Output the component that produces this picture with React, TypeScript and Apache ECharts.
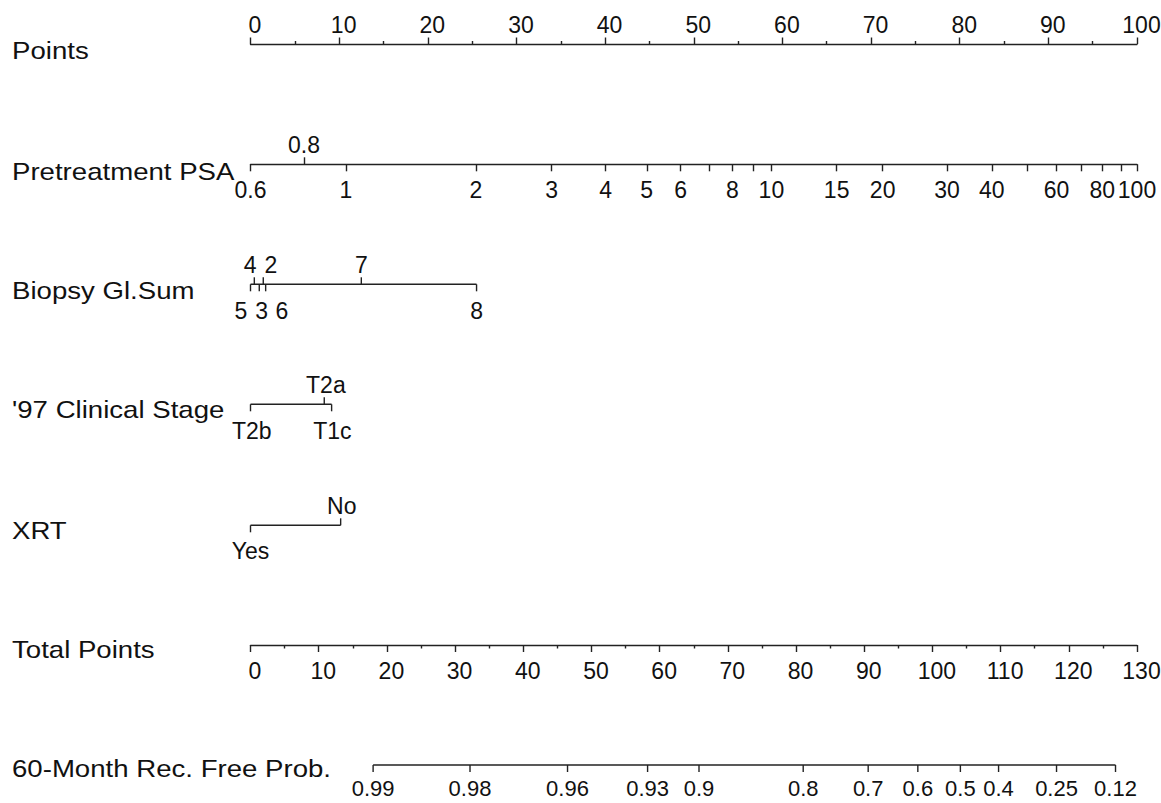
import React, { useEffect, useRef } from "react";
import * as echarts from "echarts";

// ---------- data ----------
const rowLabels = [
  "Points",
  "Pretreatment PSA",
  "Biopsy Gl.Sum",
  "'97 Clinical Stage",
  "XRT",
  "Total Points",
  "60-Month Rec. Free Prob.",
];

// Points scale (0-100) and Total Points scale (0-130)
const pointsRange = [0, 100];
const pointsStep = 10;
const totalRange = [0, 130];
const totalStep = 10;

// Pretreatment PSA: tick values and their position on the Points scale
const psaValues = ["0.6", "0.8", "1", "2", "3", "4", "5", "6", "7", "8", "9", "10", "15", "20", "30", "40", "50", "60", "70", "80", "90", "100"];
const psaPoints = [0, 6.03, 10.77, 25.42, 33.96, 40.05, 44.7, 48.53, 51.73, 54.36, 56.69, 58.76, 66.12, 71.31, 78.56, 83.63, 87.65, 90.92, 93.74, 96.08, 98.22, 100];
const psaAboveLabels = ["0.8"];
const psaUnlabeled = ["7", "9", "50", "70", "90"];

// Biopsy Gleason sum
const biopsyValues = ["5", "4", "3", "2", "6", "7", "8"];
const biopsyPoints = [0, 0.43, 0.99, 1.44, 1.71, 12.5, 25.5];
const biopsySides = ["below", "above", "below", "above", "below", "above", "below"];
const biopsyLabelAt = [-1.07, -0.03, 1.26, 2.31, 3.55, 12.5, 25.5];

// '97 Clinical Stage
const stageValues = ["T2b", "T2a", "T1c"];
const stagePoints = [0, 8.32, 9.15];
const stageSides = ["below", "above", "below"];
const stageLabelAt = [0.14, 8.5, 9.24];

// XRT
const xrtValues = ["Yes", "No"];
const xrtPoints = [0, 10.17];
const xrtSides = ["below", "above"];
const xrtLabelAt = [0, 10.3];

// 60-month recurrence-free probability on the Total Points scale
const probValues = ["0.99", "0.98", "0.96", "0.93", "0.9", "0.8", "0.7", "0.6", "0.5", "0.4", "0.25", "0.12"];
const probTotalPoints = [17.98, 32.19, 46.49, 58.23, 65.77, 81.05, 90.58, 97.86, 104.1, 109.7, 118.2, 126.85];

// ---------- layout / style ----------
const W = 1161;
const H = 803;
const AX_LEFT = 250.5;
const AX_RIGHT = 24;
const rowY = [44, 164.3, 284.3, 404.3, 525.3, 645, 765];
const rowLabelY = [51, 172, 291, 410, 531, 649.5, 769];
const FONT = "'Liberation Sans', Arial, Helvetica, sans-serif";
const TXT = "#111";
const LINE = "#222";
const LW = 1.4;
const TICK_FS = 23;

function psaLabel(v: number): string {
  for (let i = 0; i < psaPoints.length; i++) {
    if (Math.abs(psaPoints[i] - v) < 1e-6) return psaValues[i];
  }
  return "";
}

function partialAxis(
  ticks: number[],
  sides: string[],
  labels: string[],
  labelAt: number[],
  belowOffset: number,
  fontSize: number
) {
  return (_params: any, api: any) => {
    const xs = ticks.map((v) => api.coord([v, 0])[0]);
    const y = api.coord([ticks[0], 0])[1];
    const children: any[] = [];
    children.push({
      type: "line",
      shape: { x1: Math.min(...xs), y1: y, x2: Math.max(...xs), y2: y },
      style: { stroke: LINE, lineWidth: LW },
    });
    ticks.forEach((_v, i) => {
      const dir = sides[i] === "above" ? -1 : 1;
      children.push({
        type: "line",
        shape: { x1: xs[i], y1: y, x2: xs[i], y2: y + dir * 7 },
        style: { stroke: LINE, lineWidth: LW },
      });
      const lx = api.coord([labelAt[i], 0])[0];
      children.push({
        type: "text",
        x: lx,
        y: y + (dir < 0 ? -19 : belowOffset),
        style: {
          text: labels[i],
          fontSize,
          fontFamily: FONT,
          fill: TXT,
          align: "center",
          verticalAlign: "middle",
        },
      });
    });
    return { type: "group", children };
  };
}

function buildOption(): any {
  const grids = rowY.map((y) => ({
    left: AX_LEFT,
    right: AX_RIGHT,
    top: y,
    height: 0,
    containLabel: false,
    outerBoundsMode: "none",
  }));
  const yAxes = rowY.map((_y, i) => ({ gridIndex: i, type: "value", min: 0, max: 1, show: false }));
  const lineStyle = { color: LINE, width: LW };
  const labelBase = { fontSize: TICK_FS, fontFamily: FONT, color: TXT };

  const psaBelow = psaValues.filter((v) => psaAboveLabels.indexOf(v) < 0);
  const psaBelowPos = psaBelow.map((v) => psaPoints[psaValues.indexOf(v)]);
  const psaBelowLabeledPos = psaBelow
    .filter((v) => psaUnlabeled.indexOf(v) < 0)
    .map((v) => psaPoints[psaValues.indexOf(v)]);
  const psaAbovePos = psaAboveLabels.map((v) => psaPoints[psaValues.indexOf(v)]);

  const xAxes: any[] = [
    {
      gridIndex: 0,
      type: "value",
      position: "top",
      min: pointsRange[0],
      max: pointsRange[1],
      interval: pointsStep,
      axisLine: { show: true, lineStyle },
      axisTick: { show: true, length: 6.5, lineStyle },
      minorTick: { show: true, splitNumber: 2, length: 3, lineStyle },
      axisLabel: { ...labelBase, margin: 8, padding: [0, 0, 0, 9] },
      splitLine: { show: false },
    },
    {
      gridIndex: 1,
      type: "value",
      position: "bottom",
      min: pointsRange[0],
      max: pointsRange[1],
      axisLine: { show: true, lineStyle },
      axisTick: { show: true, length: 7, lineStyle, customValues: psaBelowPos },
      axisLabel: { ...labelBase, margin: 14, customValues: psaBelowLabeledPos, formatter: (v: number) => psaLabel(v) },
      splitLine: { show: false },
    },
    {
      gridIndex: 1,
      type: "value",
      position: "top",
      min: pointsRange[0],
      max: pointsRange[1],
      axisLine: { show: false },
      axisTick: { show: true, length: 7, lineStyle, customValues: psaAbovePos },
      axisLabel: { ...labelBase, margin: 8, customValues: psaAbovePos, formatter: (v: number) => psaLabel(v) },
      splitLine: { show: false },
    },
    { gridIndex: 2, type: "value", min: pointsRange[0], max: pointsRange[1], show: false },
    { gridIndex: 3, type: "value", min: pointsRange[0], max: pointsRange[1], show: false },
    { gridIndex: 4, type: "value", min: pointsRange[0], max: pointsRange[1], show: false },
    {
      gridIndex: 5,
      type: "value",
      position: "bottom",
      min: totalRange[0],
      max: totalRange[1],
      interval: totalStep,
      axisLine: { show: true, lineStyle },
      axisTick: { show: true, length: 7, lineStyle },
      minorTick: { show: true, splitNumber: 2, length: 3.5, lineStyle },
      axisLabel: { ...labelBase, margin: 14, padding: [0, 0, 0, 9] },
      splitLine: { show: false },
    },
    { gridIndex: 6, type: "value", min: totalRange[0], max: totalRange[1], show: false },
  ];

  const custom = (xi: number, yi: number, fn: any) => ({
    type: "custom",
    coordinateSystem: "cartesian2d",
    xAxisIndex: xi,
    yAxisIndex: yi,
    clip: false,
    silent: true,
    data: [[0, 0]],
    renderItem: fn,
  });

  const series = [
    custom(3, 2, partialAxis(biopsyPoints, biopsySides, biopsyValues, biopsyLabelAt, 27, TICK_FS)),
    custom(4, 3, partialAxis(stagePoints, stageSides, stageValues, stageLabelAt, 27, TICK_FS)),
    custom(5, 4, partialAxis(xrtPoints, xrtSides, xrtValues, xrtLabelAt, 26, TICK_FS)),
    custom(
      7,
      6,
      partialAxis(
        probTotalPoints,
        probTotalPoints.map(() => "below"),
        probValues,
        probTotalPoints,
        23,
        22
      )
    ),
  ];

  const graphic = rowLabels.map((t, i) => ({
    type: "text",
    x: 12,
    y: rowLabelY[i],
    scaleX: 1.15,
    style: {
      text: t,
      fontSize: 24,
      fontFamily: FONT,
      fill: TXT,
      align: "left",
      verticalAlign: "middle",
    },
  }));

  return {
    animation: false,
    backgroundColor: "#ffffff",
    grid: grids,
    xAxis: xAxes,
    yAxis: yAxes,
    series,
    graphic,
  };
}

export default function App() {
  const ref = useRef<HTMLDivElement>(null);
  useEffect(() => {
    if (!ref.current) return;
    const chart = echarts.init(ref.current, undefined, { renderer: "svg" });
    chart.setOption(buildOption());
    return () => chart.dispose();
  }, []);
  return (
    <div
      ref={ref}
      style={{ position: "fixed", left: 0, top: 0, width: W, height: H, background: "#fff" }}
    />
  );
}
